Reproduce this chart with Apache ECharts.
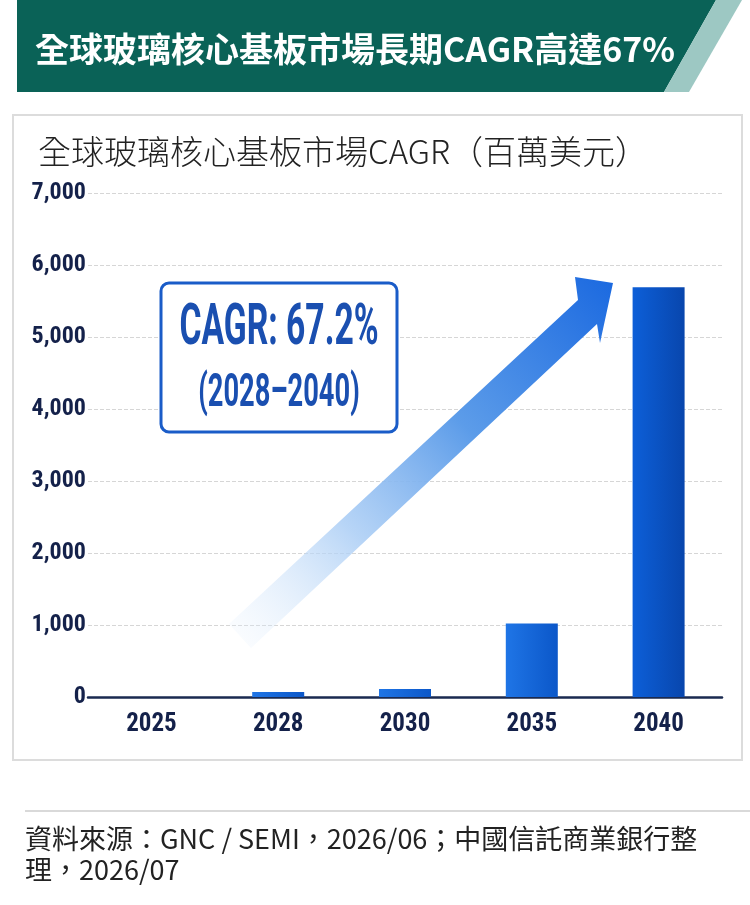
<!DOCTYPE html>
<html>
<head>
<meta charset="utf-8">
<script src="https://cdn.jsdelivr.net/npm/echarts/dist/echarts.min.js"></script>
<style>
  html, body { margin: 0; padding: 0; background: #fff; }
  #main { width: 750px; height: 905px; }
</style>
</head>
<body>
<div id="main"></div>
<script>
// 資料
var years = ['2025', '2028', '2030', '2035', '2040'];
var marketValues = [0, 70, 110, 1020, 5690];   // 百萬美元
var yMax = 7000;
var yStep = 1000;

var headerTitle = '全球玻璃核心基板市場長期CAGR高達67%';
var chartTitle = '全球玻璃核心基板市場CAGR（百萬美元）';
var cagrLabel = 'CAGR: 67.2%';
var cagrPeriod = '(2028–2040)';
var sourceLines = ['資料來源：GNC / SEMI，2026/06；中國信託商業銀行整', '理，2026/07'];

var cjk = "'Noto Sans CJK TC', 'Noto Sans', sans-serif";
var narrow = "'Noto Sans ExtraCondensed', 'Noto Sans Condensed', 'Liberation Sans Narrow', 'Roboto Condensed', 'Noto Sans', sans-serif";

var myChart = echarts.init(document.getElementById('main'));

function barColor(i) {
    if (i === years.length - 1) {
        return new echarts.graphic.LinearGradient(0, 0, 1, 0, [
            { offset: 0, color: '#0d5fd8' }, { offset: 1, color: '#0846ad' }
        ]);
    }
    return new echarts.graphic.LinearGradient(0, 0, 1, 0, [
        { offset: 0, color: '#1f75e6' }, { offset: 1, color: '#0b57c9' }
    ]);
}

var option = {
    backgroundColor: '#ffffff',
    animation: false,
    grid: { left: 88, right: 28, top: 193, bottom: 208 },
    xAxis: {
        type: 'category',
        data: years,
        axisLine: { lineStyle: { color: '#1a2a50', width: 2.5 } },
        axisTick: { show: false },
        axisLabel: {
            margin: 15,
            color: '#14214a',
            fontFamily: narrow,
            fontWeight: 'bold',
            fontSize: 25
        }
    },
    yAxis: {
        type: 'value',
        min: 0,
        max: yMax,
        interval: yStep,
        axisLine: { show: false },
        axisTick: { show: false },
        splitLine: { lineStyle: { color: '#d6d6d6', type: 'dashed', width: 1 } },
        axisLabel: {
            margin: 2,
            color: '#14214a',
            fontFamily: narrow,
            fontWeight: 'bold',
            fontSize: 24,
            formatter: function (v) { return v.toLocaleString('en-US'); }
        }
    },
    series: [{
        type: 'bar',
        barWidth: 52,
        z: 5,
        data: marketValues.map(function (v, i) {
            return { value: v, itemStyle: { color: barColor(i) } };
        })
    }],
    graphic: [
        // 標題列
        { type: 'polygon', z: -10, shape: { points: [[17, 0], [716, 0], [664, 92], [17, 92]] }, style: { fill: '#0a6257' } },
        { type: 'polygon', z: -10, shape: { points: [[716, 0], [742, 0], [689, 92], [664, 92]] }, style: { fill: '#9dc8c3' } },
        { type: 'text', z: 10, x: 35, y: 49,
          style: { text: headerTitle, fill: '#ffffff', fontSize: 34, fontWeight: 'bold', fontFamily: cjk,
                   align: 'left', verticalAlign: 'middle', textAlign: 'left', textVerticalAlign: 'middle' } },
        // 圖表框
        { type: 'rect', z: -10, shape: { x: 13, y: 115, width: 729, height: 645 },
          style: { fill: '#ffffff', stroke: '#dcdcdc', lineWidth: 2 } },
        { type: 'text', z: 10, x: 38, y: 151,
          style: { text: chartTitle, fill: '#222222', fontSize: 33, fontWeight: 300, fontFamily: cjk,
                   align: 'left', verticalAlign: 'middle', textAlign: 'left', textVerticalAlign: 'middle' } },
        // 成長箭頭
        { type: 'polygon', z: 3,
          shape: { points: [[229, 624], [578, 300], [575, 277], [613, 283], [600, 343], [597, 324], [251, 648]] },
          style: { fill: { type: 'linear', x: 240, y: 636, x2: 613, y2: 284, global: true,
                   colorStops: [
                       { offset: 0, color: 'rgba(225,238,252,0.2)' },
                       { offset: 0.3, color: 'rgba(170,205,245,0.85)' },
                       { offset: 0.6, color: '#5c9ce9' },
                       { offset: 1, color: '#1c6ae0' }
                   ] } } },
        // CAGR 標示框
        { type: 'rect', z: 20, shape: { x: 161, y: 283, width: 236, height: 149, r: 8 },
          style: { fill: '#ffffff', stroke: '#1a5cc8', lineWidth: 3 } },
        { type: 'text', z: 21, x: 279, y: 329, scaleX: 0.58,
          style: { text: cagrLabel, fill: '#1a4fb0', fontSize: 58, fontWeight: 'bold', fontFamily: "'Roboto', sans-serif",
                   align: 'center', verticalAlign: 'middle', textAlign: 'center', textVerticalAlign: 'middle' } },
        { type: 'text', z: 21, x: 279, y: 394, scaleX: 0.58,
          style: { text: cagrPeriod, fill: '#1a4fb0', fontSize: 47, fontWeight: 'bold', fontFamily: "'Roboto', sans-serif",
                   align: 'center', verticalAlign: 'middle', textAlign: 'center', textVerticalAlign: 'middle' } },
        // 資料來源
        { type: 'line', z: 0, shape: { x1: 25, y1: 811, x2: 750, y2: 811 }, style: { stroke: '#cccccc', lineWidth: 1.5 } },
        { type: 'text', z: 10, x: 25, y: 839,
          style: { text: sourceLines[0], fill: '#222222', fontSize: 27, fontFamily: cjk,
                   align: 'left', verticalAlign: 'middle', textAlign: 'left', textVerticalAlign: 'middle' } },
        { type: 'text', z: 10, x: 25, y: 870,
          style: { text: sourceLines[1], fill: '#222222', fontSize: 27, fontFamily: cjk,
                   align: 'left', verticalAlign: 'middle', textAlign: 'left', textVerticalAlign: 'middle' } }
    ]
};

myChart.setOption(option);
</script>
</body>
</html>
